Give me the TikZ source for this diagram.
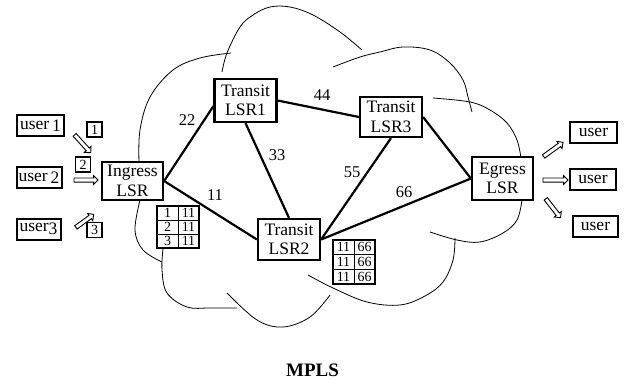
\documentclass[tikz,border=0pt]{standalone}
\usepackage{fontspec}
\setmainfont{Liberation Serif}
\usetikzlibrary{shapes.arrows}

\begin{document}
\begin{tikzpicture}[x=1pt,y=-1pt,
  txt/.style={font=\fontsize{17.5}{19.5}\selectfont},
  lsr/.style={txt, draw, fill=white, line width=2.2pt, align=center, inner sep=0pt,
              minimum width=62pt, minimum height=42pt},
  userbox/.style={txt, draw, line width=2pt, inner sep=0pt,
                  minimum width=46pt, minimum height=21pt},
  numbox/.style={draw, line width=1.6pt, inner sep=0pt, minimum size=15pt,
                 font=\fontsize{14}{14}\selectfont},
  link/.style={line width=2.2pt},
  cloudline/.style={line width=0.8pt},
  lbl/.style={font=\fontsize{16.5}{16.5}\selectfont, inner sep=0pt},
  hollow/.style={single arrow, draw, line width=0.9pt, inner sep=1.6pt,
                 single arrow head extend=2.4pt, single arrow head indent=0pt,
                 minimum height=24pt},
  cell/.style={font=\fontsize{14}{14}\selectfont, inner sep=0pt},
  tblout/.style={line width=1.8pt},
  tblin/.style={line width=0.8pt}
]
\useasboundingbox (0,0) rectangle (624,380);

% ---- cloud outline (overlapping lobes) ----
\draw[cloudline] plot[smooth, tension=0.6] coordinates
  {(139,162) (140,130) (150,97) (173,70) (200,58) (231,53)};
\draw[cloudline] plot[smooth, tension=0.6] coordinates
  {(222,72) (227,53) (240,27) (253,15) (270,7) (290,7) (313,15) (340,32) (362,50)};
\draw[cloudline] plot[smooth, tension=0.6] coordinates
  {(333,67) (360,57) (380,52) (403,47) (430,50) (450,63) (463,80) (468,97) (472,112)};
\draw[cloudline] plot[smooth, tension=0.6] coordinates
  {(433,98) (470,102) (490,110) (507,123) (517,140) (521,158)};
\draw[cloudline] plot[smooth, tension=0.6] coordinates
  {(522,200) (517,220) (503,233) (480,242) (457,240) (430,232)};
\draw[cloudline] plot[smooth, tension=0.6] coordinates
  {(455,238) (453,260) (443,282) (425,296) (400,305) (367,302) (333,288) (308,275)};
\draw[cloudline] plot[smooth, tension=0.6] coordinates
  {(330,295) (310,317) (283,327) (257,320) (227,293)};
\draw[cloudline] plot[smooth, tension=0.6] coordinates
  {(163,249) (162,270) (167,293) (187,307) (210,308) (237,308)};
\draw[cloudline] plot[smooth, tension=0.6] coordinates
  {(140,200) (135,230) (143,250) (162,262)};

% ---- routers ----
\node[lsr, minimum width=61pt, minimum height=38pt] (ing) at (132.5,181) {Ingress\\LSR};
\node[lsr, minimum height=43pt] (t1) at (245.5,100.5) {Transit\\LSR1};
\node[lsr, minimum height=40pt] (t3) at (391,117) {Transit\\LSR3};
\node[lsr, minimum height=41pt] (t2) at (289,239.5) {Transit\\LSR2};
\node[lsr, minimum width=61pt, minimum height=43pt] (eg) at (502.5,178.5) {Egress\\LSR};

% ---- links ----
\draw[link] (ing.east) -- (t1.190);
\draw[link] (ing.east) -- (t2.west);
\draw[link] (t1.south) -- (t2.north);
\draw[link] (t1.east) -- (t3.west);
\draw[link] (t3.south) -- (t2.east);
\draw[link] (t3.east) -- (eg.west);
\draw[link] (t2.east) -- (eg.west);

% ---- link labels ----
\node[lbl] (l22) at (187,120) {22};
\node[lbl] (l11) at (215,195) {11};
\node[lbl] (l33) at (277,155) {33};
\node[lbl] (l44) at (322,95) {44};
\node[lbl] (l55) at (352,172) {55};
\node[lbl] (l66) at (404,192) {66};

% ---- users on the ingress side ----
\node[userbox, minimum width=47pt] (u1) at (40.5,125.5) {user\,\raisebox{-2pt}{1}};
\node[userbox, minimum width=45pt] (u2) at (39,177.5) {user\,\raisebox{-2pt}{2}};
\node[userbox, minimum width=44pt] (u3) at (38.5,229) {user\raisebox{-3pt}{3}};

\node[hollow, rotate=-48] (a1) at (82,143) {};
\node[hollow] (a2) at (85,180) {};
\node[hollow, rotate=36, minimum height=22pt] (a3) at (84,221.5) {};

\node[numbox] (n1) at (94.5,129.5) {1};
\node[numbox] (n2) at (83,164.5) {2};
\node[numbox] (n3) at (94.5,230) {3};

% ---- users on the egress side ----
\node[hollow, rotate=36] (b1) at (552.5,150) {};
\node[hollow, minimum height=25pt] (b2) at (554.5,180) {};
\node[hollow, rotate=-52] (b3) at (552.5,207.5) {};

\node[userbox, minimum width=47pt] (v1) at (593.5,132.5) {user};
\node[userbox, minimum width=46pt] (v2) at (593,179) {user};
\node[userbox, minimum width=45pt] (v3) at (595.5,226) {user};

% ---- label table at the ingress ----
\draw[tblin] (157,220) -- (199,220) (157,234) -- (199,234) (178,206) -- (178,248);
\draw[tblout] (157,206) rectangle (199,248);
\node[cell] (ta1) at (167.5,213) {1};
\node[cell] (ta2) at (167.5,227) {2};
\node[cell] (ta3) at (167.5,241) {3};
\node[cell] (tb1) at (188.5,213) {11};
\node[cell] (tb2) at (188.5,227) {11};
\node[cell] (tb3) at (188.5,241) {11};

% ---- label table at LSR2 ----
\draw[tblin] (333,254.7) -- (375,254.7) (333,269.3) -- (375,269.3) (354,240) -- (354,284);
\draw[tblout] (333,240) rectangle (375,284);
\node[cell] (tc1) at (343.5,247.3) {11};
\node[cell] (tc2) at (343.5,262) {11};
\node[cell] (tc3) at (343.5,276.7) {11};
\node[cell] (td1) at (364.5,247.3) {66};
\node[cell] (td2) at (364.5,262) {66};
\node[cell] (td3) at (364.5,276.7) {66};

% ---- caption ----
\node[font=\fontsize{19}{19}\selectfont\bfseries, inner sep=0pt, anchor=base]
  (cap) at (312.5,376.5) {MPLS};
\end{tikzpicture}
\end{document}
